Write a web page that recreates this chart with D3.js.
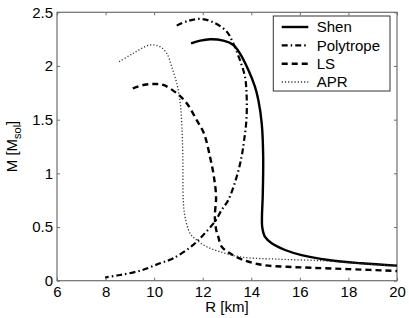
<!DOCTYPE html>
<html><head><meta charset="utf-8">
<script src="https://cdn.jsdelivr.net/npm/d3@7"></script>
<style>body{margin:0;background:#fff}svg{display:block}text{font-family:"Liberation Sans",Arial,Helvetica,sans-serif}</style>
</head><body><svg id="c" width="409" height="318"></svg>
<script>
const xTicks = [6, 8, 10, 12, 14, 16, 18, 20];
const yTicks = [0, 0.5, 1, 1.5, 2, 2.5];
const seriesNames = ["Shen", "Polytrope", "LS", "APR"];
const shen = [[11.52,2.21],[11.9,2.236],[12.3,2.249],[12.85,2.236],[13.26,2.196],[13.53,2.118],[13.88,1.963],[14.15,1.807],[14.29,1.683],[14.43,1.466],[14.49,1.155],[14.47,0.78],[14.44,0.6],[14.45,0.5],[14.56,0.41],[14.84,0.348],[15.39,0.286],[16.07,0.239],[17.17,0.193],[18.54,0.162],[20,0.14]];
const polytrope = [[10.93,2.376],[11.4,2.42],[11.96,2.438],[12.5,2.40],[12.99,2.32],[13.26,2.21],[13.53,2.056],[13.74,1.90],[13.81,1.714],[13.8,1.5],[13.7,1.3],[13.6,1.155],[13.4,0.969],[13.05,0.75],[12.78,0.659],[12.5,0.55],[12.02,0.426],[11.61,0.333],[10.79,0.209],[10.24,0.162],[9.45,0.095],[8.6,0.053],[7.98,0.03]];
const ls = [[9.12,1.792],[9.6,1.825],[10.03,1.832],[10.38,1.823],[10.93,1.746],[11.34,1.653],[11.75,1.497],[12.05,1.373],[12.3,1.155],[12.46,0.969],[12.55,0.78],[12.5,0.6],[12.55,0.48],[12.64,0.41],[12.78,0.317],[13.12,0.255],[13.67,0.193],[14.49,0.146],[15.46,0.13],[16.5,0.12],[18,0.108],[20,0.09]];
const apr = [[8.56,2.04],[9.14,2.118],[9.83,2.196],[10.24,2.18],[10.52,2.118],[10.72,1.994],[10.93,1.839],[11.06,1.683],[11.13,1.497],[11.18,1.171],[11.2,0.75],[11.27,0.596],[11.48,0.441],[11.75,0.379],[12.16,0.317],[12.71,0.27],[13.6,0.22],[15.18,0.2],[17,0.185],[18.5,0.16],[20,0.135]];

const svg = d3.select("#c");
const L = 57, R = 397, T = 12.3, B = 280.7;
const x = d3.scaleLinear().domain([6, 20]).range([L, R]);
const y = d3.scaleLinear().domain([0, 2.5]).range([B, T]);
const axisColor = "#6e6e6e";

svg.append("rect").attr("x", L).attr("y", T).attr("width", R - L).attr("height", B - T)
  .attr("fill", "none").attr("stroke", axisColor).attr("stroke-width", 1.2);

const ax = (g) => { g.select(".domain").remove(); g.selectAll(".tick line").attr("stroke", axisColor); };
svg.append("g").attr("transform", `translate(0,${B})`)
  .call(d3.axisBottom(x).tickValues(xTicks).tickSize(-3).tickPadding(6).tickFormat(d3.format("d")))
  .call(ax).selectAll("text").attr("font-size", 15).attr("fill", "#000");
svg.append("g").attr("transform", `translate(0,${T})`)
  .call(d3.axisTop(x).tickValues(xTicks).tickSize(-3).tickFormat(""))
  .call(ax);
svg.append("g").attr("transform", `translate(${L},0)`)
  .call(d3.axisLeft(y).tickValues(yTicks).tickSize(-3).tickPadding(4).tickFormat(d => d))
  .call(ax).selectAll("text").attr("font-size", 15).attr("fill", "#000");
svg.append("g").attr("transform", `translate(${R},0)`)
  .call(d3.axisRight(y).tickValues(yTicks).tickSize(-3).tickFormat(""))
  .call(ax);

svg.append("text").attr("x", (L + R) / 2).attr("y", 312).attr("text-anchor", "middle")
  .attr("font-size", 15).text("R [km]");
const yl = svg.append("text").attr("transform", `translate(17,${(T + B) / 2}) rotate(-90)`)
  .attr("text-anchor", "middle").attr("font-size", 15);
yl.append("tspan").text("M [M");
yl.append("tspan").attr("font-size", 11).attr("dy", 4).text("sol");
yl.append("tspan").attr("dy", -4).text("]");

const styles = [
  { data: shen, dash: null, w: 2.4, c: "#000" },
  { data: polytrope, dash: "6,3,1.5,3", w: 2.2, c: "#000" },
  { data: ls, dash: "6,4", w: 2.4, c: "#000" },
  { data: apr, dash: "1.2,2", w: 1.3, c: "#333" }
];
const line = d3.line().x(d => x(d[0])).y(d => y(d[1])).curve(d3.curveCatmullRom.alpha(0.5));
styles.forEach(s => {
  svg.append("path").attr("d", line(s.data)).attr("fill", "none").attr("stroke", s.c)
    .attr("stroke-width", s.w).attr("stroke-dasharray", s.dash);
});

svg.append("rect").attr("x", 273.3).attr("y", 16).attr("width", 116.7).attr("height", 75)
  .attr("fill", "#fff").attr("stroke", "#333").attr("stroke-width", 1);
const ly = [27, 45.3, 63.7, 82];
seriesNames.forEach((n, i) => {
  const s = styles[i];
  svg.append("line").attr("x1", 281.7).attr("x2", 308.3).attr("y1", ly[i]).attr("y2", ly[i])
    .attr("stroke", s.c).attr("stroke-width", s.w).attr("stroke-dasharray", s.dash);
  svg.append("text").attr("x", 316.7).attr("y", ly[i] + 5.3).attr("font-size", 15).text(n);
});
</script></body></html>
